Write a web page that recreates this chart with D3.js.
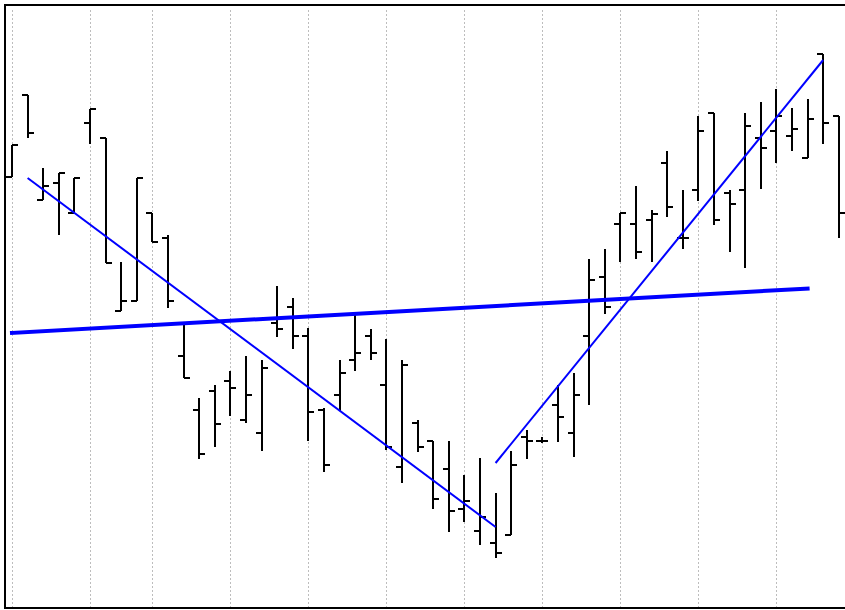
<!DOCTYPE html>
<html>
<head>
<meta charset="utf-8">
<script src="https://cdn.jsdelivr.net/npm/d3@7"></script>
<style>
  html, body { margin: 0; padding: 0; background: #fff; overflow: hidden; }
  svg { display: block; }
</style>
</head>
<body>
<script>
// Trading days (categories)
const dates = [
  "2010-08-30","2010-08-31","2010-09-01","2010-09-02","2010-09-03",
  "2010-09-07","2010-09-08","2010-09-09","2010-09-10",
  "2010-09-13","2010-09-14","2010-09-15","2010-09-16","2010-09-17",
  "2010-09-20","2010-09-21","2010-09-22","2010-09-23","2010-09-24",
  "2010-09-27","2010-09-28","2010-09-29","2010-09-30","2010-10-01",
  "2010-10-04","2010-10-05","2010-10-06","2010-10-07","2010-10-08",
  "2010-10-11","2010-10-12","2010-10-13","2010-10-14","2010-10-15",
  "2010-10-18","2010-10-19","2010-10-20","2010-10-21","2010-10-22",
  "2010-10-25","2010-10-26","2010-10-27","2010-10-28","2010-10-29",
  "2010-11-01","2010-11-02","2010-11-03","2010-11-04","2010-11-05",
  "2010-11-08","2010-11-09","2010-11-10","2010-11-11","2010-11-12"
];
const open = [138.3,146.5,136.0,137.7,134.7,143.7,142.2,124.9,125.9,134.7,
  132.2,120.4,115.0,116.9,117.9,114.0,112.7,123.7,125.3,122.4,
  115.0,116.5,120.0,122.4,117.5,109.3,113.7,111.9,109.1,105.1,
  102.9,101.7,102.5,112.3,111.9,115.5,112.7,122.4,128.3,133.6,
  133.6,134.0,139.7,132.2,137.0,144.7,136.7,137.0,142.2,142.9,
  142.4,140.2,150.6,144.4];
const high = [141.5,146.5,139.2,138.7,138.2,145.1,142.2,129.8,138.2,134.7,
  132.5,123.5,116.2,117.5,118.9,120.4,120.0,127.4,126.2,123.2,
  115.2,120.0,124.5,123.1,122.1,120.0,114.0,111.9,111.9,108.5,
  110.2,106.7,110.9,113.0,112.3,117.5,118.7,130.1,131.1,134.7,
  137.4,135.0,140.9,137.0,144.4,144.7,137.0,144.7,145.8,147.1,
  145.2,146.1,150.6,144.4];
const low = [138.3,142.2,136.0,132.5,134.7,141.6,129.7,124.9,125.9,131.8,
  125.2,118.2,110.1,111.3,114.4,113.7,110.9,122.3,121.1,111.9,
  108.8,114.9,118.9,120.0,111.0,107.7,110.8,105.1,102.8,103.8,
  101.5,100.2,102.5,110.1,111.7,111.8,110.3,115.5,124.6,129.8,
  130.1,129.8,134.3,131.1,135.9,133.5,130.8,129.2,137.1,139.7,
  140.9,140.2,141.6,132.2];
const close = [141.5,142.7,137.4,138.7,138.2,145.1,129.7,125.9,138.2,131.8,
  125.9,118.2,110.6,113.6,117.2,116.5,119.2,123.1,122.4,114.8,
  109.5,118.7,120.7,120.7,111.3,119.5,111.3,106.1,104.9,105.9,
  104.3,100.7,109.5,111.9,111.9,114.3,116.5,128.0,125.3,134.7,
  130.8,134.6,135.3,132.2,142.9,134.0,135.6,143.4,141.2,144.4,
  143.1,144.1,143.7,134.7];

// Trend lines: [startDate, startPrice, endDate, endPrice]
const supportLine = ["2010-08-30", 122.7, "2010-11-10", 127.15];
const downTrend   = ["2010-08-31", 138.2, "2010-10-13", 103.3];
const upTrend     = ["2010-10-13", 109.7, "2010-11-11", 150.0];

const W = 845, H = 610;
const frame = {left: 5, top: 5, bottom: 608, right: 880};

const svg = d3.select("body").append("svg")
  .attr("width", W).attr("height", H);

const x = d3.scalePoint().domain(dates).range([12, 838.8]).padding(0);
const y = d3.scaleLinear().domain([95.2, 155.5]).range([frame.bottom, frame.top]);
const xr = d => Math.round(x(d));
const yr = v => Math.round(y(v));

// weekly gridlines: first trading day of each week
const parse = d3.timeParse("%Y-%m-%d");
const gridDates = dates.filter((d, i) => i === 0 ||
  d3.timeMonday.floor(parse(d)).getTime() !== d3.timeMonday.floor(parse(dates[i - 1])).getTime());

const xAxis = d3.axisBottom(x).tickValues(gridDates)
  .tickSize(-(frame.bottom - frame.top - 3)).tickFormat("");
const gx = svg.append("g")
  .attr("transform", `translate(0,${frame.bottom})`)
  .call(xAxis);
gx.select(".domain").remove();
gx.selectAll(".tick line")
  .attr("stroke", "#bdbdbd")
  .attr("stroke-width", 1)
  .attr("stroke-dasharray", "2,2")
  .attr("shape-rendering", "crispEdges");

const data = dates.map((d, i) => ({date: d, o: open[i], h: high[i], l: low[i], c: close[i]}));

const bars = svg.append("g").attr("stroke", "#000").attr("stroke-width", 2)
  .attr("shape-rendering", "crispEdges");
const g = bars.selectAll("g").data(data).join("g");
g.append("line")
  .attr("x1", d => xr(d.date)).attr("x2", d => xr(d.date))
  .attr("y1", d => yr(d.h)).attr("y2", d => yr(d.l));
g.append("line")
  .attr("x1", d => xr(d.date) - 6).attr("x2", d => xr(d.date))
  .attr("y1", d => yr(d.o)).attr("y2", d => yr(d.o));
g.append("line")
  .attr("x1", d => xr(d.date)).attr("x2", d => xr(d.date) + 6)
  .attr("y1", d => yr(d.c)).attr("y2", d => yr(d.c));

function trend(t, width, cap) {
  svg.append("line")
    .attr("x1", x(t[0])).attr("y1", y(t[1]))
    .attr("x2", x(t[2])).attr("y2", y(t[3]))
    .attr("stroke", "#0000ff")
    .attr("stroke-width", width)
    .attr("stroke-linecap", cap);
}
trend(supportLine, 4, "square");
trend(downTrend, 2, "butt");
trend(upTrend, 2, "butt");

// frame (right edge lies outside the window)
svg.append("rect")
  .attr("x", frame.left).attr("y", frame.top)
  .attr("width", frame.right - frame.left).attr("height", frame.bottom - frame.top)
  .attr("fill", "none").attr("stroke", "#000").attr("stroke-width", 2);
</script>
</body>
</html>
